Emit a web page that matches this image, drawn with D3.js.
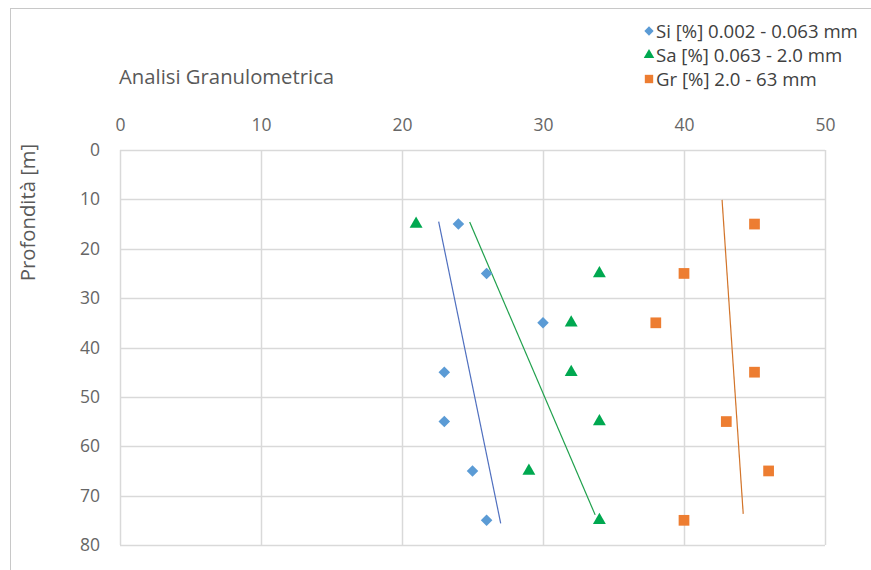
<!DOCTYPE html>
<html>
<head>
<meta charset="utf-8">
<script src="https://cdn.jsdelivr.net/npm/d3@7"></script>
<style>
  html, body { margin: 0; padding: 0; background: #fff; }
  svg { display: block; font-family: "Open Sans", "Liberation Sans", sans-serif; }
</style>
</head>
<body>
<svg id="chart" width="871" height="570"></svg>
<script>
// Sample depths (m) and grain-size fractions (%)
const depths = [15, 25, 35, 45, 55, 65, 75];
const siltValues = [24, 26, 30, 23, 23, 25, 26];
const sandValues = [21, 34, 32, 32, 34, 29, 34];
const gravelValues = [45, 40, 38, 45, 43, 46, 40];

// Trend line endpoints: [percent, depth]
const siltTrend = [[22.6, 14.5], [27.0, 75.6]];
const sandTrend = [[24.8, 14.6], [33.7, 73.9]];
const gravelTrend = [[42.7, 10.1], [44.2, 73.7]];

const xTicks = [0, 10, 20, 30, 40, 50];
const yTicks = [0, 10, 20, 30, 40, 50, 60, 70, 80];

const seriesNames = ["Si [%] 0.002 - 0.063 mm", "Sa [%] 0.063 - 2.0 mm", "Gr [%] 2.0 - 63 mm"];
const chartTitle = "Analisi Granulometrica";
const yTitle = "Profondità [m]";

const svg = d3.select("#chart");
const plot = { left: 120, right: 825, top: 150, bottom: 545 };

const x = d3.scaleLinear().domain([0, 50]).range([plot.left, plot.right]);
const y = d3.scaleLinear().domain([0, 80]).range([plot.top, plot.bottom]);

// Outer chart frame
svg.append("rect")
  .attr("x", 10.5).attr("y", 8.5).attr("width", 1000).attr("height", 1000)
  .attr("fill", "none").attr("stroke", "#c8c8c8");

// Gridlines
const grid = svg.append("g");
grid.selectAll("line.v").data(xTicks).join("line")
  .attr("x1", d => Math.round(x(d)) + 0.5).attr("x2", d => Math.round(x(d)) + 0.5)
  .attr("y1", plot.top).attr("y2", plot.bottom)
  .attr("stroke", "#d9d9d9").attr("stroke-width", 1.5);
grid.selectAll("line.h").data(yTicks).join("line")
  .attr("y1", d => Math.round(y(d)) + 0.5).attr("y2", d => Math.round(y(d)) + 0.5)
  .attr("x1", plot.left).attr("x2", plot.right)
  .attr("stroke", "#d9d9d9").attr("stroke-width", 1.5);

// Axes (labels only, domain hidden)
const xAxis = svg.append("g")
  .attr("transform", `translate(0,${plot.top - 19})`)
  .call(d3.axisTop(x).tickValues(xTicks).tickSize(0).tickPadding(0));
const yAxis = svg.append("g")
  .attr("transform", `translate(${plot.left - 20},0)`)
  .call(d3.axisLeft(y).tickValues(yTicks).tickSize(0).tickPadding(0));
[xAxis, yAxis].forEach(a => {
  a.select(".domain").remove();
  a.selectAll("text").attr("fill", "#666666").attr("font-size", 17.5)
    .attr("font-family", "\"Open Sans\", sans-serif");
});

// Titles
svg.append("text")
  .attr("x", 119).attr("y", 84)
  .attr("fill", "#595959").attr("font-size", 20.3)
  .text(chartTitle);
svg.append("text")
  .attr("transform", `translate(35,${(140 + 285) / 2}) rotate(-90)`)
  .attr("text-anchor", "middle")
  .attr("fill", "#595959").attr("font-size", 20.3)
  .text(yTitle);

// Trend lines
const line = d3.line().x(d => x(d[0])).y(d => y(d[1]));
const trends = [
  { data: siltTrend, color: "#4f6fbf" },
  { data: sandTrend, color: "#1fa04c" },
  { data: gravelTrend, color: "#d2742a" }
];
svg.append("g").selectAll("path").data(trends).join("path")
  .attr("d", d => line(d.data))
  .attr("fill", "none").attr("stroke", d => d.color).attr("stroke-width", 1.2);

// Markers
const colors = ["#5b9bd5", "#00a850", "#ed7d31"];
const symbols = [
  d3.symbol().type(d3.symbolDiamond2).size(85),
  d3.symbol().type(d3.symbolTriangle).size(72),
  d3.symbol().type(d3.symbolSquare).size(115)
];
const series = [siltValues, sandValues, gravelValues];
series.forEach((vals, i) => {
  svg.append("g").selectAll("path")
    .data(vals.map((v, j) => [v, depths[j]]))
    .join("path")
    .attr("transform", d => `translate(${x(d[0])},${y(d[1])})`)
    .attr("d", symbols[i]())
    .attr("fill", colors[i]);
});

// Legend
const legend = svg.append("g");
const legendSymbols = [
  d3.symbol().type(d3.symbolDiamond2).size(55),
  d3.symbol().type(d3.symbolTriangle).size(48),
  d3.symbol().type(d3.symbolSquare).size(70)
];
const legendY = [31, 55, 79];
seriesNames.forEach((name, i) => {
  legend.append("path")
    .attr("transform", `translate(649,${legendY[i]})`)
    .attr("d", legendSymbols[i]())
    .attr("fill", colors[i]);
  legend.append("text")
    .attr("x", 656).attr("y", legendY[i])
    .attr("dy", "0.35em")
    .attr("fill", "#404040").attr("font-size", 18.6)
    .text(name);
});
</script>
</body>
</html>
